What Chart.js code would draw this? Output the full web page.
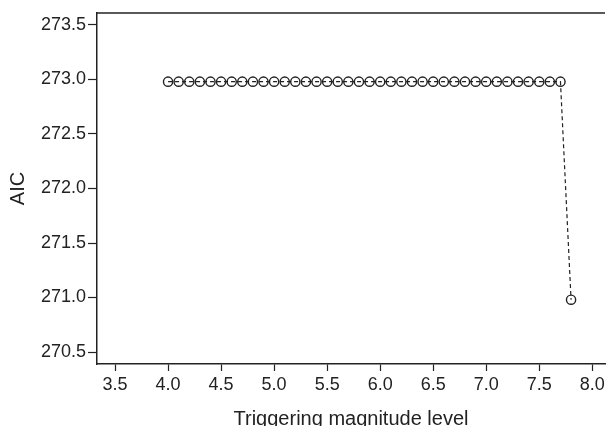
<!DOCTYPE html>
<html>
<head>
<meta charset="utf-8">
<script src="https://cdn.jsdelivr.net/npm/chart.js@4/dist/chart.umd.min.js"></script>
<style>
  html, body { margin: 0; padding: 0; background: #fff; }
  #wrap { width: 606px; height: 426px; }
</style>
</head>
<body>
<div id="wrap"><canvas id="myChart" width="606" height="426"></canvas></div>
<script>
// triggering magnitude levels (x) and AIC values (y)
const magnitudes = [4.0, 4.1, 4.2, 4.3, 4.4, 4.5, 4.6, 4.7, 4.8, 4.9,
                    5.0, 5.1, 5.2, 5.3, 5.4, 5.5, 5.6, 5.7, 5.8, 5.9,
                    6.0, 6.1, 6.2, 6.3, 6.4, 6.5, 6.6, 6.7, 6.8, 6.9,
                    7.0, 7.1, 7.2, 7.3, 7.4, 7.5, 7.6, 7.7, 7.8];
const aicValues = [272.98, 272.98, 272.98, 272.98, 272.98, 272.98, 272.98, 272.98, 272.98, 272.98,
                   272.98, 272.98, 272.98, 272.98, 272.98, 272.98, 272.98, 272.98, 272.98, 272.98,
                   272.98, 272.98, 272.98, 272.98, 272.98, 272.98, 272.98, 272.98, 272.98, 272.98,
                   272.98, 272.98, 272.98, 272.98, 272.98, 272.98, 272.98, 272.98, 270.98];
const xTicks = [3.5, 4.0, 4.5, 5.0, 5.5, 6.0, 6.5, 7.0, 7.5, 8.0];
const yTicks = [270.5, 271.0, 271.5, 272.0, 272.5, 273.0, 273.5];

const ink = '#222';
const font = "'Liberation Sans', Arial, Helvetica, sans-serif";

// top frame line
const topFrame = {
    id: 'topFrame',
    afterDraw(chart) {
        const {ctx, chartArea} = chart;
        ctx.save();
        ctx.strokeStyle = ink;
        ctx.lineWidth = 1.5;
        ctx.beginPath();
        ctx.moveTo(chartArea.left, chartArea.top);
        ctx.lineTo(chartArea.right, chartArea.top);
        ctx.stroke();
        ctx.restore();
    }
};

const ctx = document.getElementById('myChart').getContext('2d');
const chart = new Chart(ctx, {
    type: 'line',
    data: {
        datasets: [{
            data: magnitudes.map((m, i) => ({x: m, y: aicValues[i]})),
            borderColor: ink,
            borderWidth: 1.2,
            borderDash: [4, 3],
            pointRadius: 4.6,
            pointBorderWidth: 1.4,
            pointBorderColor: ink,
            pointBackgroundColor: 'rgba(0,0,0,0)',
            fill: false,
            tension: 0
        }]
    },
    options: {
        responsive: false,
        animation: false,
        layout: {autoPadding: false, padding: {top: 13, right: 1, left: 0, bottom: 0}},
        plugins: {legend: {display: false}, tooltip: {enabled: false}},
        scales: {
            x: {
                type: 'linear',
                min: 3.33,
                max: 8.12,
                afterBuildTicks: s => { s.ticks = xTicks.map(v => ({value: v})); },
                afterFit: s => { s.height = 62; s.paddingRight = 0; s.paddingLeft = 0; },
                grid: {drawOnChartArea: false, drawTicks: true, tickLength: 7, tickColor: ink, tickWidth: 1.2},
                border: {display: true, color: ink, width: 1.5},
                ticks: {
                    color: ink, font: {family: font, size: 18}, padding: 3,
                    maxRotation: 0, autoSkip: false,
                    callback: v => v.toFixed(1)
                },
                title: {display: true, text: 'Triggering magnitude level', color: ink,
                        font: {family: font, size: 20}, padding: {top: 10, bottom: -5}}
            },
            y: {
                min: 270.39,
                max: 273.61,
                afterBuildTicks: s => { s.ticks = yTicks.map(v => ({value: v})); },
                afterFit: s => { s.width = 97; },
                grid: {drawOnChartArea: false, drawTicks: true, tickLength: 9, tickColor: ink, tickWidth: 1.2},
                border: {display: true, color: ink, width: 1.5},
                ticks: {
                    color: ink, font: {family: font, size: 18}, padding: 2,
                    autoSkip: false,
                    callback: v => v.toFixed(1)
                },
                title: {display: true, text: 'AIC', color: ink,
                        font: {family: font, size: 20}, padding: {top: 6, bottom: 0}}
            }
        }
    },
    plugins: [topFrame]
});
</script>
</body>
</html>
